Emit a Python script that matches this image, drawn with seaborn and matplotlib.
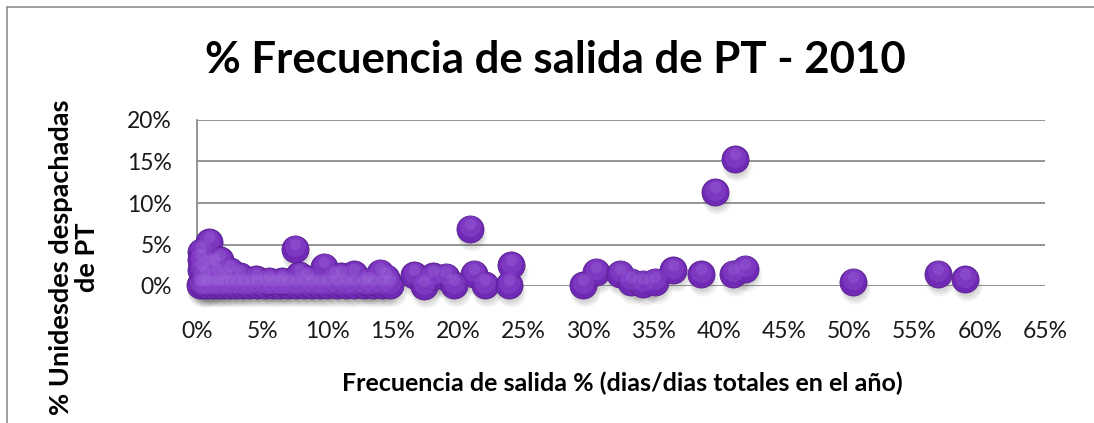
import numpy as np
import pandas as pd
import matplotlib
matplotlib.use("Agg")
import matplotlib.pyplot as plt
import matplotlib.transforms as mtransforms
from matplotlib.patches import Rectangle
from matplotlib.ticker import PercentFormatter
import seaborn as sns

# ---- data (percent) ----
freq_pct = [
    0.2, 0.5, 0.8, 1.2, 1.6, 2.0, 2.5, 3.0, 3.5, 4.0, 4.6, 5.2, 5.8, 6.4, 7.0,
    7.6, 8.2, 8.8, 9.4, 10.0, 10.7, 11.4, 12.0, 12.8, 13.5, 14.2, 14.8,
    0.3, 0.6, 1.0, 1.5, 2.2, 3.3, 4.5, 5.5, 6.5, 7.8, 8.5, 9.7, 10.5, 11.0,
    12.0, 13.0, 14.0, 14.5,
    0.95, 0.3, 0.3, 1.8, 1.3, 2.5, 7.5,
    16.6, 17.4, 18.1, 19.1, 19.7, 20.9, 21.2, 22.1, 23.9, 24.1,
    29.6, 30.6, 32.4, 33.3, 34.2, 35.1, 36.5, 38.6, 39.7, 41.1, 41.2, 42.0,
    50.3, 56.8, 58.9,
]
units_pct = [
    0.1, 0.1, 0.1, 0.1, 0.1, 0.1, 0.1, 0.1, 0.1, 0.1, 0.1, 0.1, 0.1, 0.1, 0.1,
    0.1, 0.1, 0.1, 0.1, 0.1, 0.1, 0.1, 0.1, 0.1, 0.1, 0.1, 0.1,
    1.9, 1.2, 2.5, 1.5, 1.0, 1.2, 0.8, 0.6, 0.6, 1.3, 0.8, 2.3, 1.0, 1.2,
    1.4, 0.5, 1.6, 1.0,
    5.3, 4.1, 3.1, 3.1, 2.7, 1.8, 4.5,
    1.3, 0.0, 1.2, 1.1, 0.1, 6.9, 1.5, 0.1, 0.1, 2.5,
    0.1, 1.7, 1.5, 0.5, 0.3, 0.5, 1.9, 1.4, 11.3, 1.5, 15.3, 2.1,
    0.5, 1.5, 0.8,
]
x_ticks = list(range(0, 70, 5))
y_ticks = list(range(0, 25, 5))

title = "% Frecuencia de salida de PT - 2010"
x_label = "Frecuencia de salida % (dias/dias totales en el año)"
y_label = "% Unidesdes despachadas\nde PT"

df = pd.DataFrame({"freq": freq_pct, "units": units_pct})

sns.set_theme(style="white")
plt.rcParams["font.family"] = ["Lato", "DejaVu Sans"]

W, H = 1094, 423
fig = plt.figure(figsize=(W / 100, H / 100), dpi=100)
ax = fig.add_axes([197 / W, 1 - 286 / H, (1045 - 197) / W, (286 - 120) / H])

# outer chart frame
fig.patches.append(Rectangle((7 / W, -0.2), 1.2, 1 - 7 / H + 0.2, transform=fig.transFigure,
                             fill=False, edgecolor="#8c8c8c", linewidth=1.2))

S = 380
# soft shadow layers
for dx, dy, a, sc in [(2, -7, 0.07, 1.2), (1.5, -6, 0.09, 1.0), (1, -5, 0.10, 0.8)]:
    tr = mtransforms.offset_copy(ax.transData, fig=fig, x=dx * 0.72, y=dy * 0.72, units="points")
    ax.scatter(df["freq"], df["units"], s=S * sc, color="#555555", alpha=a,
               linewidths=0, transform=tr, clip_on=False, zorder=2)

sns.scatterplot(data=df, x="freq", y="units", ax=ax, s=S, color="#7029B4",
                edgecolor="#55208C", linewidth=0.6, clip_on=False, zorder=3, legend=False)

# highlight to mimic sphere shading
tr_h = mtransforms.offset_copy(ax.transData, fig=fig, x=0, y=2.5 * 0.72, units="points")
ax.scatter(df["freq"], df["units"], s=S * 0.6, color="#8A44CC", alpha=0.55,
           linewidths=0, transform=tr_h, clip_on=False, zorder=4)
tr_h2 = mtransforms.offset_copy(ax.transData, fig=fig, x=0, y=5 * 0.72, units="points")
ax.scatter(df["freq"], df["units"], s=S * 0.18, color="#A070DC", alpha=0.3,
           linewidths=0, transform=tr_h2, clip_on=False, zorder=4)

ax.set_xlim(0, 65)
ax.set_ylim(0, 20)
ax.set_xticks(x_ticks)
ax.set_yticks(y_ticks)
ax.xaxis.set_major_formatter(PercentFormatter(decimals=0))
ax.yaxis.set_major_formatter(PercentFormatter(decimals=0))
ax.tick_params(axis="both", length=0, labelsize=16.5, colors="#1a1a1a")
ax.tick_params(axis="x", pad=25)
ax.tick_params(axis="y", pad=18)
ax.grid(axis="y", color="#8c8c8c", linewidth=1.3)
ax.set_axisbelow(True)
for side in ["top", "right", "bottom"]:
    ax.spines[side].set_visible(False)
ax.spines["left"].set_color("#8c8c8c")
ax.spines["left"].set_linewidth(1.3)
ax.set_xlabel("")
ax.set_ylabel("")

fig.text(555 / W, 1 - 60 / H, title, ha="center", va="center", fontsize=31.5,
         fontweight="bold", color="black")
fig.text(622 / W, 1 - 383 / H, x_label, ha="center", va="center", fontsize=18,
         fontweight="bold", color="black")
fig.text(74 / W, 1 - 257 / H, y_label, ha="center", va="center", fontsize=19.5,
         fontweight="bold", color="black", rotation=90, linespacing=1.1)

fig.savefig("out.png", dpi=100, facecolor="white")
